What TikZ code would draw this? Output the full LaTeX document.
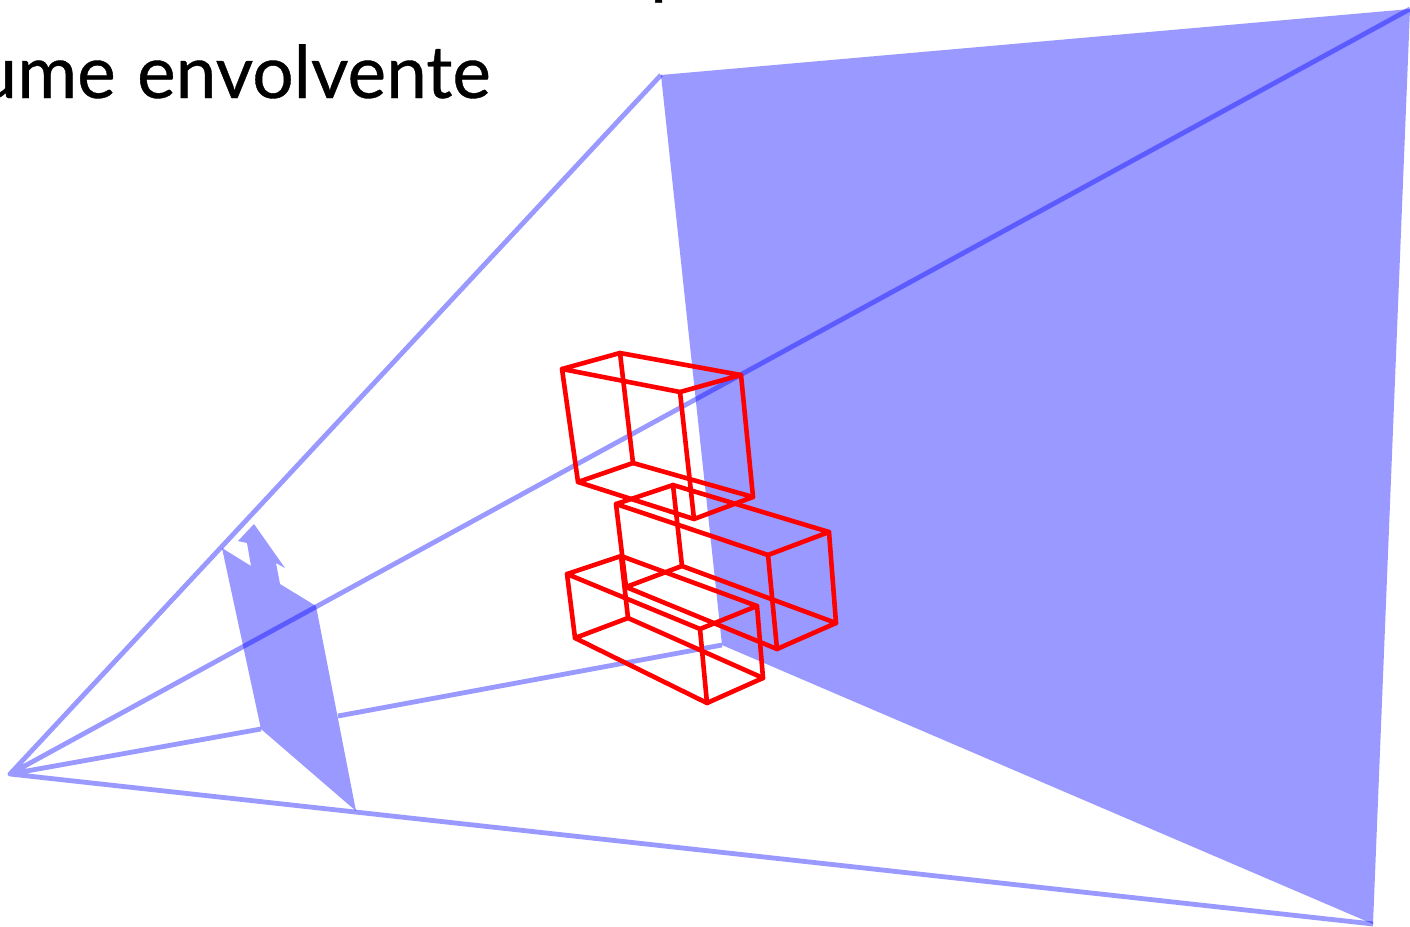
\documentclass[tikz,border=0pt]{standalone}
\usepackage{fontspec}
\setmainfont{Lato}
\newfontfamily\labelfont[WordSpace=1.15,FakeBold=0.5]{Lato}
\tikzset{
  x=1pt,y=-1pt,
  plane/.style={fill=blue,fill opacity=0.4,draw=none},
  ray/.style={draw=blue,draw opacity=0.4,line width=4.8pt,line join=round},
  boxedge/.style={draw=red,line width=4.6pt,line join=round,line cap=round},
  label/.style={inner sep=0pt,font=\labelfont\fontsize{73}{80}\selectfont,text=black}
}
\newcommand{\wirebox}[8]{%
  \draw[boxedge] (#1)--(#2)--(#3)--(#4)--cycle;
  \draw[boxedge] (#5)--(#6)--(#7)--(#8)--cycle;
  \draw[boxedge] (#1)--(#5) (#2)--(#6) (#3)--(#7) (#4)--(#8);}
\begin{document}
\begin{tikzpicture}
\clip (0,0) rectangle (1410,926);
\fill[white] (0,0) rectangle (1410,926);
% frustum
\coordinate (A) at (10,774);
\coordinate (FTL) at (661,75);
\coordinate (FTR) at (1410,9);
\coordinate (FBR) at (1373,924);
\coordinate (FBL) at (722,645);
\coordinate (NBLa) at (261,729);
\coordinate (NBLb) at (338,716);
\fill[plane] (FTL)--(FTR)--(FBR)--(FBL)--cycle;
\fill[plane] (222,548)--(251,566)--(247,543)--(238,541)--(254,524)--(285,568)--(276,563)--(280,584)--(316,606)--(356,811)--(NBLa)--cycle;
\draw[ray] (FTL)--(A)--(FTR) (A)--(FBR) (A)--(NBLa) (NBLb)--(FBL);
% boxes
\coordinate (a1) at (562,369);\coordinate (a2) at (620,353);\coordinate (a3) at (741,375);\coordinate (a4) at (680,392);
\coordinate (a5) at (578,482);\coordinate (a6) at (633,463);\coordinate (a7) at (753,497);\coordinate (a8) at (694,519);
\coordinate (b1) at (616,504);\coordinate (b2) at (673,485);\coordinate (b3) at (829,532);\coordinate (b4) at (768,555);
\coordinate (b5) at (626,587);\coordinate (b6) at (682,566);\coordinate (b7) at (836,623);\coordinate (b8) at (777,649);
\coordinate (c1) at (567,574);\coordinate (c2) at (621,556);\coordinate (c3) at (757,606);\coordinate (c4) at (700,629);
\coordinate (c5) at (575,638);\coordinate (c6) at (628,618);\coordinate (c7) at (763,678);\coordinate (c8) at (707,703);
\wirebox{a1}{a2}{a3}{a4}{a5}{a6}{a7}{a8}
\wirebox{b1}{b2}{b3}{b4}{b5}{b6}{b7}{b8}
\wirebox{c1}{c2}{c3}{c4}{c5}{c6}{c7}{c8}
% text
\node[label,anchor=base east] (title) at (491,98) {Volume envolvente};
\node[label,anchor=base west] (above) at (650,-10) {p};
\end{tikzpicture}
\end{document}
